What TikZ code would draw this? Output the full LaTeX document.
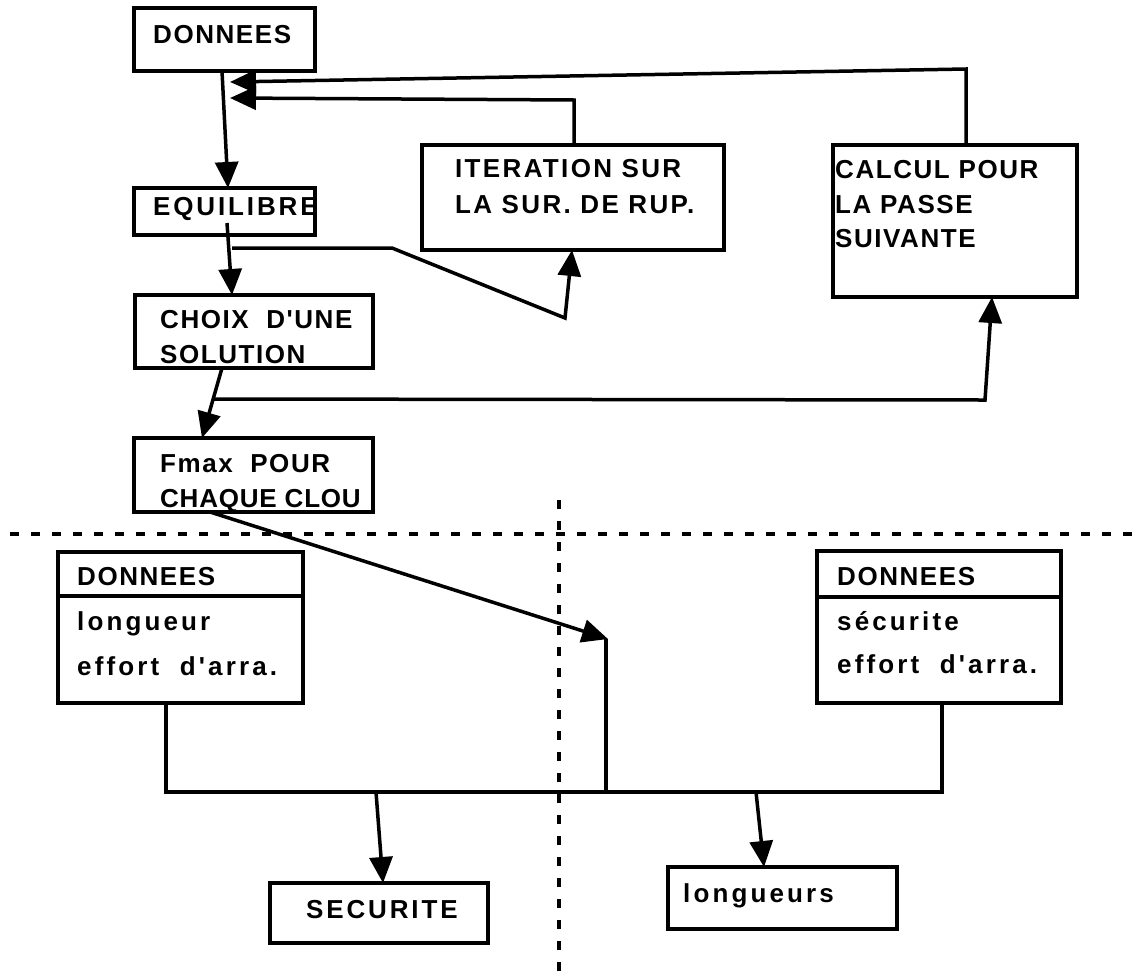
\documentclass[tikz,border=0pt]{standalone}
\usepackage{fontspec}
\setmainfont{Liberation Sans}
\newfontfamily\capf[LetterSpace=6]{Liberation Sans}
\newfontfamily\capnf[LetterSpace=3]{Liberation Sans}
\newfontfamily\capmf[LetterSpace=9]{Liberation Sans}
\newfontfamily\capwf[LetterSpace=11]{Liberation Sans}
\newfontfamily\lowf[LetterSpace=12]{Liberation Sans}
\usetikzlibrary{arrows.meta,calc}
\begin{document}
\begin{tikzpicture}[x=1pt,y=-1pt,
  box/.style={draw, line width=3.5pt, inner sep=0pt, outer sep=0pt, anchor=north west},
  lbl/.style={anchor=base west, inner sep=0pt, font=\capf\bfseries\fontsize{26}{30}\selectfont},
  narrowlbl/.style={anchor=base west, inner sep=0pt, font=\capnf\bfseries\fontsize{26}{30}\selectfont},
  midlbl/.style={anchor=base west, inner sep=0pt, font=\capmf\bfseries\fontsize{26}{30}\selectfont},
  widelbl/.style={anchor=base west, inner sep=0pt, font=\capwf\bfseries\fontsize{26}{30}\selectfont},
  lowlbl/.style={anchor=base west, inner sep=0pt, font=\lowf\bfseries\fontsize{26}{30}\selectfont},
  conn/.style={line width=3.5pt},
  arr/.style={line width=3.5pt, -{Triangle[length=26pt,width=23pt]}},
  sepline/.style={line width=3.5pt, dash pattern=on 9pt off 12pt}]
\useasboundingbox (0,0) rectangle (1132,975);
% boxes
\node[box, minimum width=181pt, minimum height=63pt] (don) at (134,8) {};
\node[box, minimum width=181pt, minimum height=47pt] (equ) at (134,188) {};
\node[box, minimum width=238pt, minimum height=73pt] (cho) at (135,295) {};
\node[box, minimum width=239pt, minimum height=74pt] (fmx) at (134,438) {};
\node[box, minimum width=302pt, minimum height=105pt] (ite) at (422,145) {};
\node[box, minimum width=244pt, minimum height=152pt] (cal) at (833,145) {};
\node[box, minimum width=245pt, minimum height=151pt] (dl) at (58,552) {};
\node[box, minimum width=244pt, minimum height=152pt] (dr) at (817,551) {};
\node[box, minimum width=218pt, minimum height=60pt] (sec) at (270,883) {};
\node[box, minimum width=229pt, minimum height=62pt] (lon) at (668,867) {};
\draw[line width=3.5pt] ($(dl.north west)+(0,44)$) -- ($(dl.north east)+(0,44)$);
\draw[line width=3.5pt] ($(dr.north west)+(0,46)$) -- ($(dr.north east)+(0,46)$);
% texts
\node[lbl] (t1) at (153,43) {DONNEES};
\node[widelbl] (t2) at (153,215) {EQUILIBRE};
\node[midlbl] (t3) at (455,177) {ITERATION SUR};
\node[midlbl] (t4) at (455,213) {LA SUR. DE RUP.};
\node[lbl] (t5) at (835,178) {CALCUL POUR};
\node[lbl] (t6) at (835,213) {LA PASSE};
\node[lbl] (t7) at (835,247) {SUIVANTE};
\node[lbl] (t8) at (160,328) {CHOIX\ \ D'UNE};
\node[lbl] (t9) at (160,363) {SOLUTION};
\node[lbl] (t10) at (160,472) {Fmax\ \ POUR};
\node[narrowlbl] (t11) at (160,507) {CHAQUE CLOU};
\node[lbl] (t12) at (77,585) {DONNEES};
\node[lowlbl] (t13) at (77,630) {longueur};
\node[lowlbl] (t14) at (77,675) {effort\ \ d'arra.};
\node[lbl] (t15) at (837,585) {DONNEES};
\node[lowlbl] (t16) at (837,630) {sécurite};
\node[lowlbl] (t17) at (837,673) {effort\ \ d'arra.};
\node[widelbl] (t18) at (306,918) {SECURITE};
\node[lowlbl] (t19) at (683,902) {longueurs};
% separators
\coordinate (hL) at (10,534);
\coordinate (hR) at (1132,534);
\coordinate (vT) at (559,500);
\coordinate (vB) at (559,975);
\draw[sepline] (hL) -- (hR);
\draw[sepline] (vT) -- (vB);
% connectors
\draw[arr] ($(don.south west)+(88,0)$) -- ($(equ.north west)+(94,0)$);
\draw[arr] ($(cal.north west)+(133,0)$) -- ($(cal.north west)+(133,-76)$) -- ($(don.south west)+(96,11)$);
\draw[arr] ($(ite.north west)+(152,0)$) -- ($(ite.north west)+(152,-45)$) -- ($(don.south west)+(96,27)$);
\draw[arr] ($(equ.south west)+(93,-12)$) -- ($(cho.north west)+(97,0)$);
\draw[arr] ($(equ.south west)+(98,13)$) -- ($(equ.south west)+(258,13)$) -- ($(ite.south west)+(143,68)$) -- ($(ite.south west)+(150,0)$);
\draw[arr] ($(cho.south west)+(87,0)$) -- ($(fmx.north west)+(68,0)$);
\draw[arr] ($(cho.south west)+(77,31)$) -- ($(cal.south west)+(152,103)$) -- ($(cal.south west)+(159,0)$);
\coordinate (J) at (608,639);
\coordinate (busL) at (166,792);
\coordinate (busR) at (942,792);
\draw[arr] ($(fmx.south west)+(76,0)$) -- (J);
\draw[conn] ($(J)+(-2,0)$) -- ($(J |- busL)+(-2,0)$);
\draw[conn] ($(dl.south west)+(108,0)$) -- (busL) -- (busR) -- ($(dr.south west)+(125,0)$);
\draw[arr] ($(busL)+(210,0)$) -- ($(sec.north west)+(113,0)$);
\draw[arr] ($(busL)+(590,0)$) -- ($(lon.north west)+(96,0)$);
\end{tikzpicture}
\end{document}
